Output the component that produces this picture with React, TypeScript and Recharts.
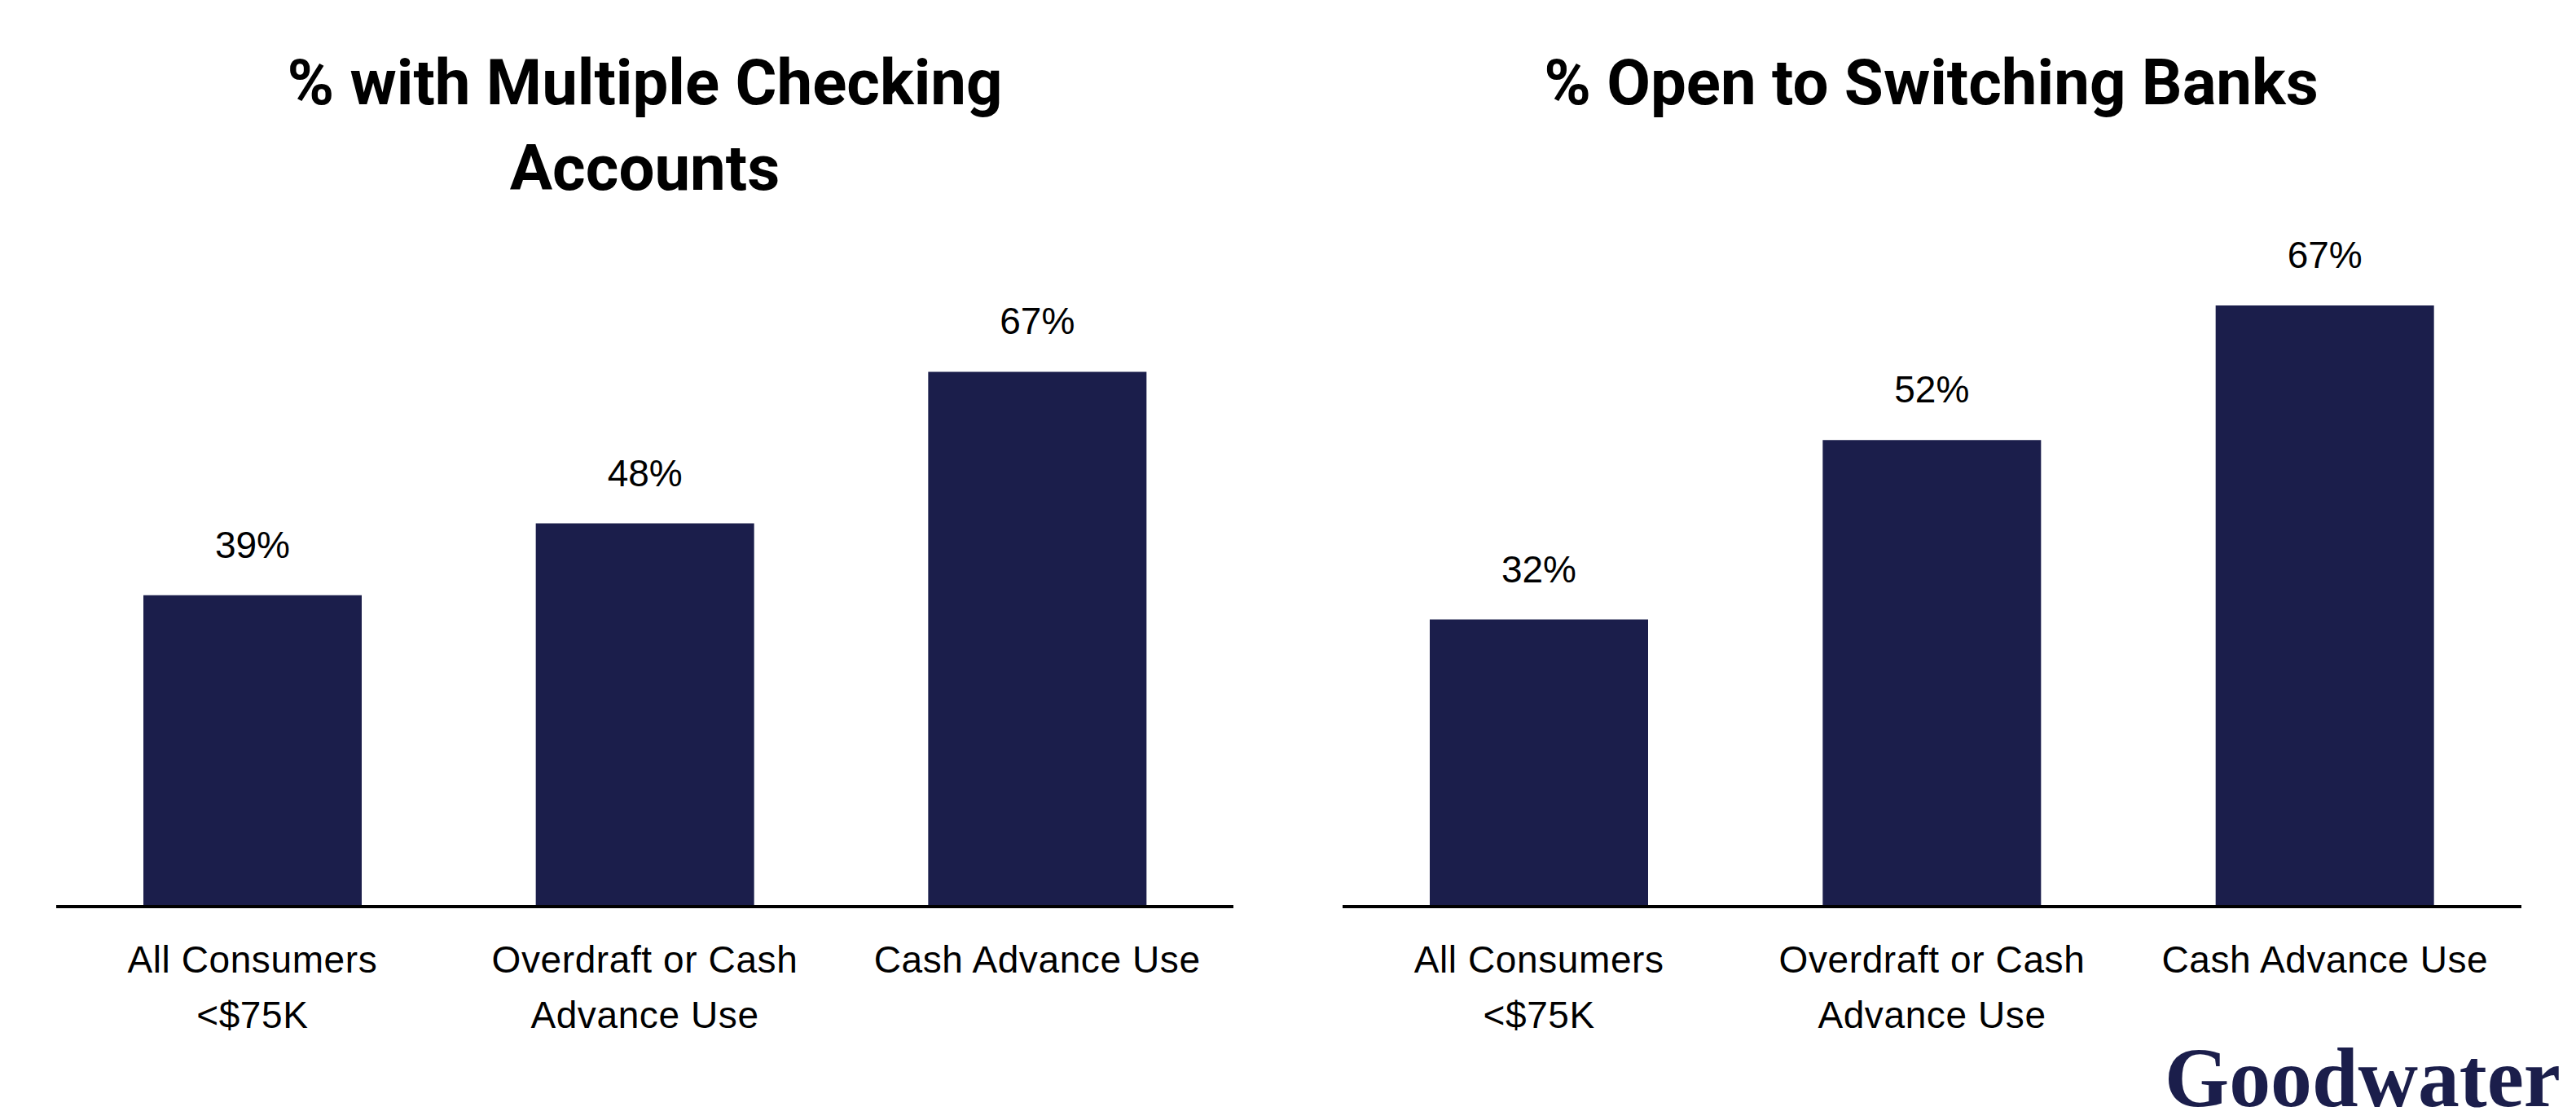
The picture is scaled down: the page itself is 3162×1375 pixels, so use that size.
import { BarChart, Bar, XAxis, YAxis, LabelList } from "recharts";

const categories = ["All Consumers\n<$75K", "Overdraft or Cash\nAdvance Use", "Cash Advance Use"];
const multipleChecking = [39, 48, 67];
const openToSwitching = [32, 52, 67];
const titles = ["% with Multiple Checking\nAccounts", "% Open to Switching Banks"];

const NAVY = "#1b1e4b";
const LABEL_FONT = "'Liberation Sans', Arial, sans-serif";

const CategoryTick = (props: any) => {
  const { x, y, payload } = props;
  const lines = String(payload.value).split("\n");
  return (
    <text x={x} y={y} textAnchor="middle" fontFamily={LABEL_FONT} fontSize={46} letterSpacing={0.6} fill="#000">
      {lines.map((l, i) => (
        <tspan key={i} x={x} dy={i === 0 ? 81 : 68}>{l}</tspan>
      ))}
    </text>
  );
};

function Panel({ values, title, left, marginLeft, top, max }: any) {
  const data = categories.map((c, i) => ({ name: c, value: values[i] }));
  return (
    <div style={{ position: "absolute", left, top: 0, width: 1581, height: 1375 }}>
      <div
        style={{
          position: "absolute",
          left: marginLeft,
          width: 1445,
          top: 49,
          textAlign: "center",
          fontFamily: "Roboto, sans-serif",
          fontWeight: 700,
          fontSize: 78,
          lineHeight: "105px",
          color: "#000",
          whiteSpace: "pre-line",
        }}
      >
        {title}
      </div>
      <BarChart
        width={1581}
        height={1375}
        data={data}
        margin={{ top, right: 67, bottom: 62, left: marginLeft }}
      >
        <XAxis
          dataKey="name"
          axisLine={{ stroke: "#000", strokeWidth: 4 }}
          tickLine={false}
          tickSize={0}
          tickMargin={0}
          tick={<CategoryTick />}
          interval={0}
          height={200}
        />
        <YAxis hide domain={[0, max]} />
        <Bar dataKey="value" fill={NAVY} barSize={268} isAnimationActive={false}>
          <LabelList
            dataKey="value"
            position="top"
            offset={46}
            formatter={(v: any) => `${v}%`}
            style={{ fontFamily: LABEL_FONT, fontSize: 46, fill: "#000" }}
          />
        </Bar>
      </BarChart>
    </div>
  );
}

export default function App() {
  return (
    <div style={{ position: "absolute", left: 0, top: 0, width: 3162, height: 1375, background: "#fff", overflow: "hidden" }}>
      <Panel values={multipleChecking} title={titles[0]} left={0} marginLeft={69} top={329} max={80} />
      <Panel values={openToSwitching} title={titles[1]} left={1581} marginLeft={67} top={342} max={70} />
      <svg style={{ position: "absolute", left: 0, top: 0 }} width={3162} height={1375} pointerEvents="none">
        <text
          x={2657}
          y={1358}
          fontFamily="'Liberation Serif', 'Times New Roman', serif"
          fontWeight={700}
          fontSize={104}
          fill={NAVY}
          textLength={486}
          lengthAdjust="spacingAndGlyphs"
        >
          Goodwater
        </text>
      </svg>
    </div>
  );
}
